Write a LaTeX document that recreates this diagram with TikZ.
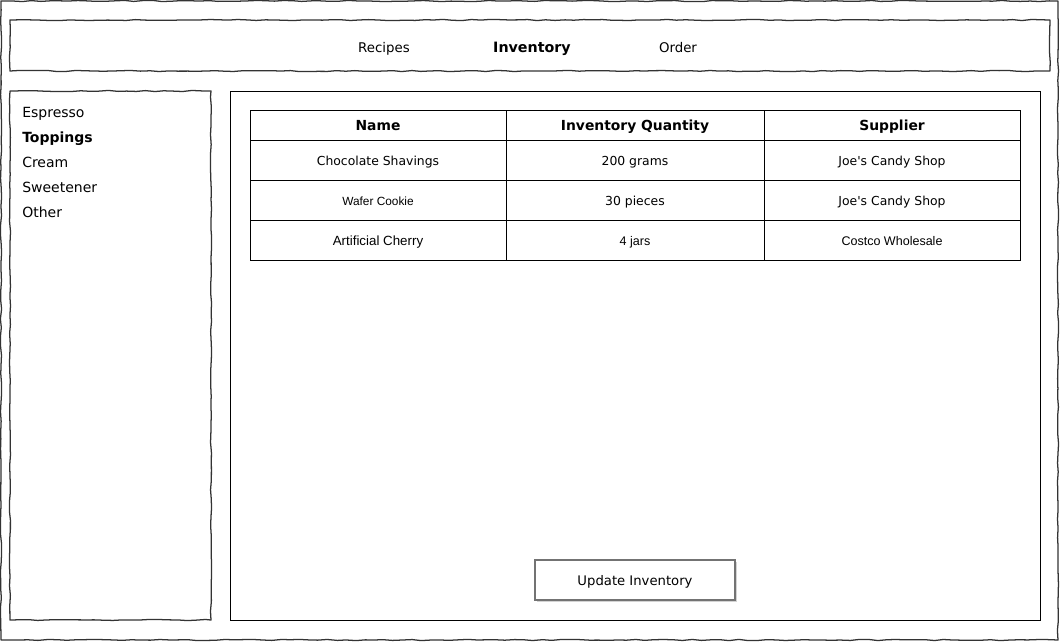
\documentclass[tikz,border=0pt]{standalone}
\usepackage{fontspec}
\setmainfont{DejaVu Sans}
\newfontfamily\arialfont{Liberation Sans}
\usetikzlibrary{decorations.pathmorphing,shadows,positioning}

\begin{document}
\begin{tikzpicture}[x=0.75pt,y=-0.75pt]

\tikzset{sketchy/.style={draw=black!80,line width=0.95pt,line join=round,decorate,decoration={random steps,segment length=7pt,amplitude=0.45pt}},
panel/.style={draw=black,line width=0.7pt},
label/.style={inner sep=0pt,text height=7.4pt,text depth=2pt,yshift=-1.2pt},
navitem/.style={label,font=\fontsize{10}{12}\selectfont},
sideitem/.style={label,font=\fontsize{10.5}{12}\selectfont,anchor=west},
headcell/.style={label,font=\fontsize{10.4}{12}\selectfont\bfseries},
cell/.style={label,font=\fontsize{9.3}{11}\selectfont},
arialcell/.style={label,font=\arialfont\fontsize{9.4}{11}\selectfont},
updatebtn/.style={draw=black!55,fill=white,line width=0.8pt,minimum width=150pt,minimum height=30pt,inner sep=0pt,text depth=0pt,font=\fontsize{9.9}{12}\selectfont,drop shadow={shadow xshift=1.5pt,shadow yshift=-1.8pt,opacity=0.35}}}

\pgfmathsetseed{7}
\useasboundingbox (0,0) rectangle (1062,642);

% Sketchy frames
\draw[sketchy] (1,1) rectangle (1058,640);
\draw[sketchy] (10,20) rectangle (1050,71);
\draw[sketchy] (10,91) rectangle (211,620);

% Navigation
\node (recipes) [navitem] at (384,47) {Recipes};
\node (inventory) [navitem,font=\fontsize{10.7}{12}\selectfont\bfseries] at (532,47) {Inventory};
\node (order) [navitem] at (678,47) {Order};

% Side menu
\node (espresso) [sideitem] at (22,112) {Espresso};
\node (toppings) [sideitem,font=\fontsize{10.5}{12}\selectfont\bfseries] at (22,137) {Toppings};
\node (cream) [sideitem] at (22,162) {Cream};
\node (sweetener) [sideitem] at (22,187) {Sweetener};
\node (other) [sideitem] at (22,212) {Other};

% Content panel
\draw[panel] (230,91) rectangle (1040,620);

% Table grid
\draw[panel] (250,110) rectangle (1020,260);
\foreach \y in {140,180,220} \draw[panel] (250,\y) -- (1020,\y);
\foreach \x in {506,764} \draw[panel] (\x,110) -- (\x,260);

% Table header
\node (hname) [headcell] at (378,125) {Name};
\node (hqty) [headcell] at (635,125) {Inventory Quantity};
\node (hsup) [headcell] at (892,125) {Supplier};

% Table rows
\node (name1) [cell] at (378,160) {Chocolate Shavings};
\node (qty1) [cell] at (635,160) {200 grams};
\node (sup1) [cell] at (892,160) {Joe\textquotesingle s Candy Shop};
\node (name2) [arialcell,font=\arialfont\fontsize{8.9}{11}\selectfont] at (378,200) {Wafer Cookie};
\node (qty2) [cell] at (635,200) {30 pieces};
\node (sup2) [cell] at (892,200) {Joe\textquotesingle s Candy Shop};
\node (name3) [arialcell,font=\arialfont\fontsize{10}{11}\selectfont] at (378,240) {Artificial Cherry};
\node (qty3) [arialcell] at (635,240) {4 jars};
\node (sup3) [arialcell] at (892,240) {Costco Wholesale};

% Button
\node (update) [updatebtn] at (635,580) {Update Inventory};

\end{tikzpicture}
\end{document}
